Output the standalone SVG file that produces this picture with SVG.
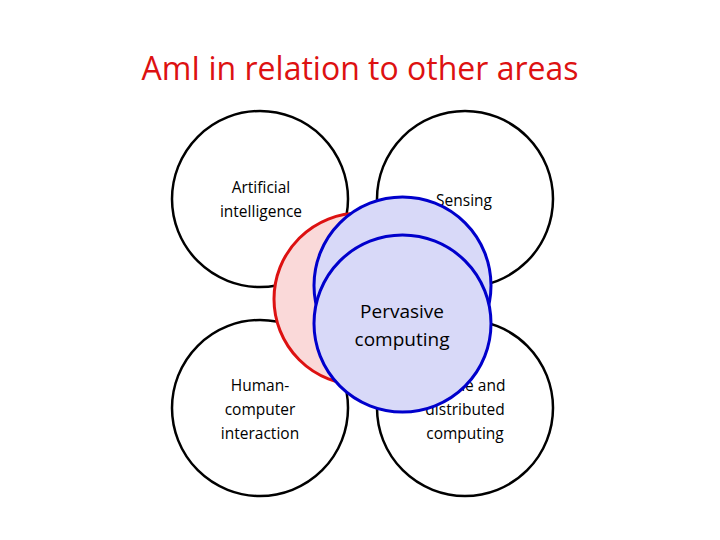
<svg xmlns="http://www.w3.org/2000/svg" width="720" height="540" viewBox="0 0 720 540">
<style>
.area{fill:#fff;stroke:#000;stroke-width:2.5}
.lbl{font-family:"Open Sans","Liberation Sans",sans-serif;font-size:15.5px;fill:#000;text-anchor:middle}
.blue{fill:#d8d9f8;stroke:#0000cc;stroke-width:3}
</style>
<rect width="720" height="540" fill="#fff"/>
<text x="360" y="80" font-family="'Open Sans','Liberation Sans',sans-serif" font-size="32" fill="#dd1111" text-anchor="middle">AmI in relation to other areas</text>
<g id="ai"><circle class="area" cx="260" cy="199" r="88"/></g>
<g id="sensing"><circle class="area" cx="465" cy="199" r="88"/></g>
<g id="hci"><circle class="area" cx="260" cy="408" r="88"/></g>
<g id="mobile"><circle class="area" cx="465" cy="408" r="88"/></g>
<text class="lbl" x="261" y="193">Artificial</text>
<text class="lbl" x="261" y="217">intelligence</text>
<text class="lbl" x="464" y="206">Sensing</text>
<text class="lbl" x="260" y="391">Human-</text>
<text class="lbl" x="260" y="415">computer</text>
<text class="lbl" x="260" y="439">interaction</text>
<text class="lbl" x="465" y="391">Mobile and</text>
<text class="lbl" x="465" y="415">distributed</text>
<text class="lbl" x="465" y="439">computing</text>
<g id="ami"><circle cx="360" cy="299" r="86" fill="#fad9d9" stroke="#dd1111" stroke-width="3"/></g>
<g id="pervasive">
<circle class="blue" cx="402.5" cy="285.5" r="88.5"/>
<circle class="blue" cx="402.5" cy="323.5" r="88.5"/>
<text x="402" y="318" font-family="'Open Sans','Liberation Sans',sans-serif" font-size="19" text-anchor="middle">Pervasive</text>
<text x="402" y="346" font-family="'Open Sans','Liberation Sans',sans-serif" font-size="19" text-anchor="middle">computing</text>
</g>
<g id="connectors"/>
</svg>
